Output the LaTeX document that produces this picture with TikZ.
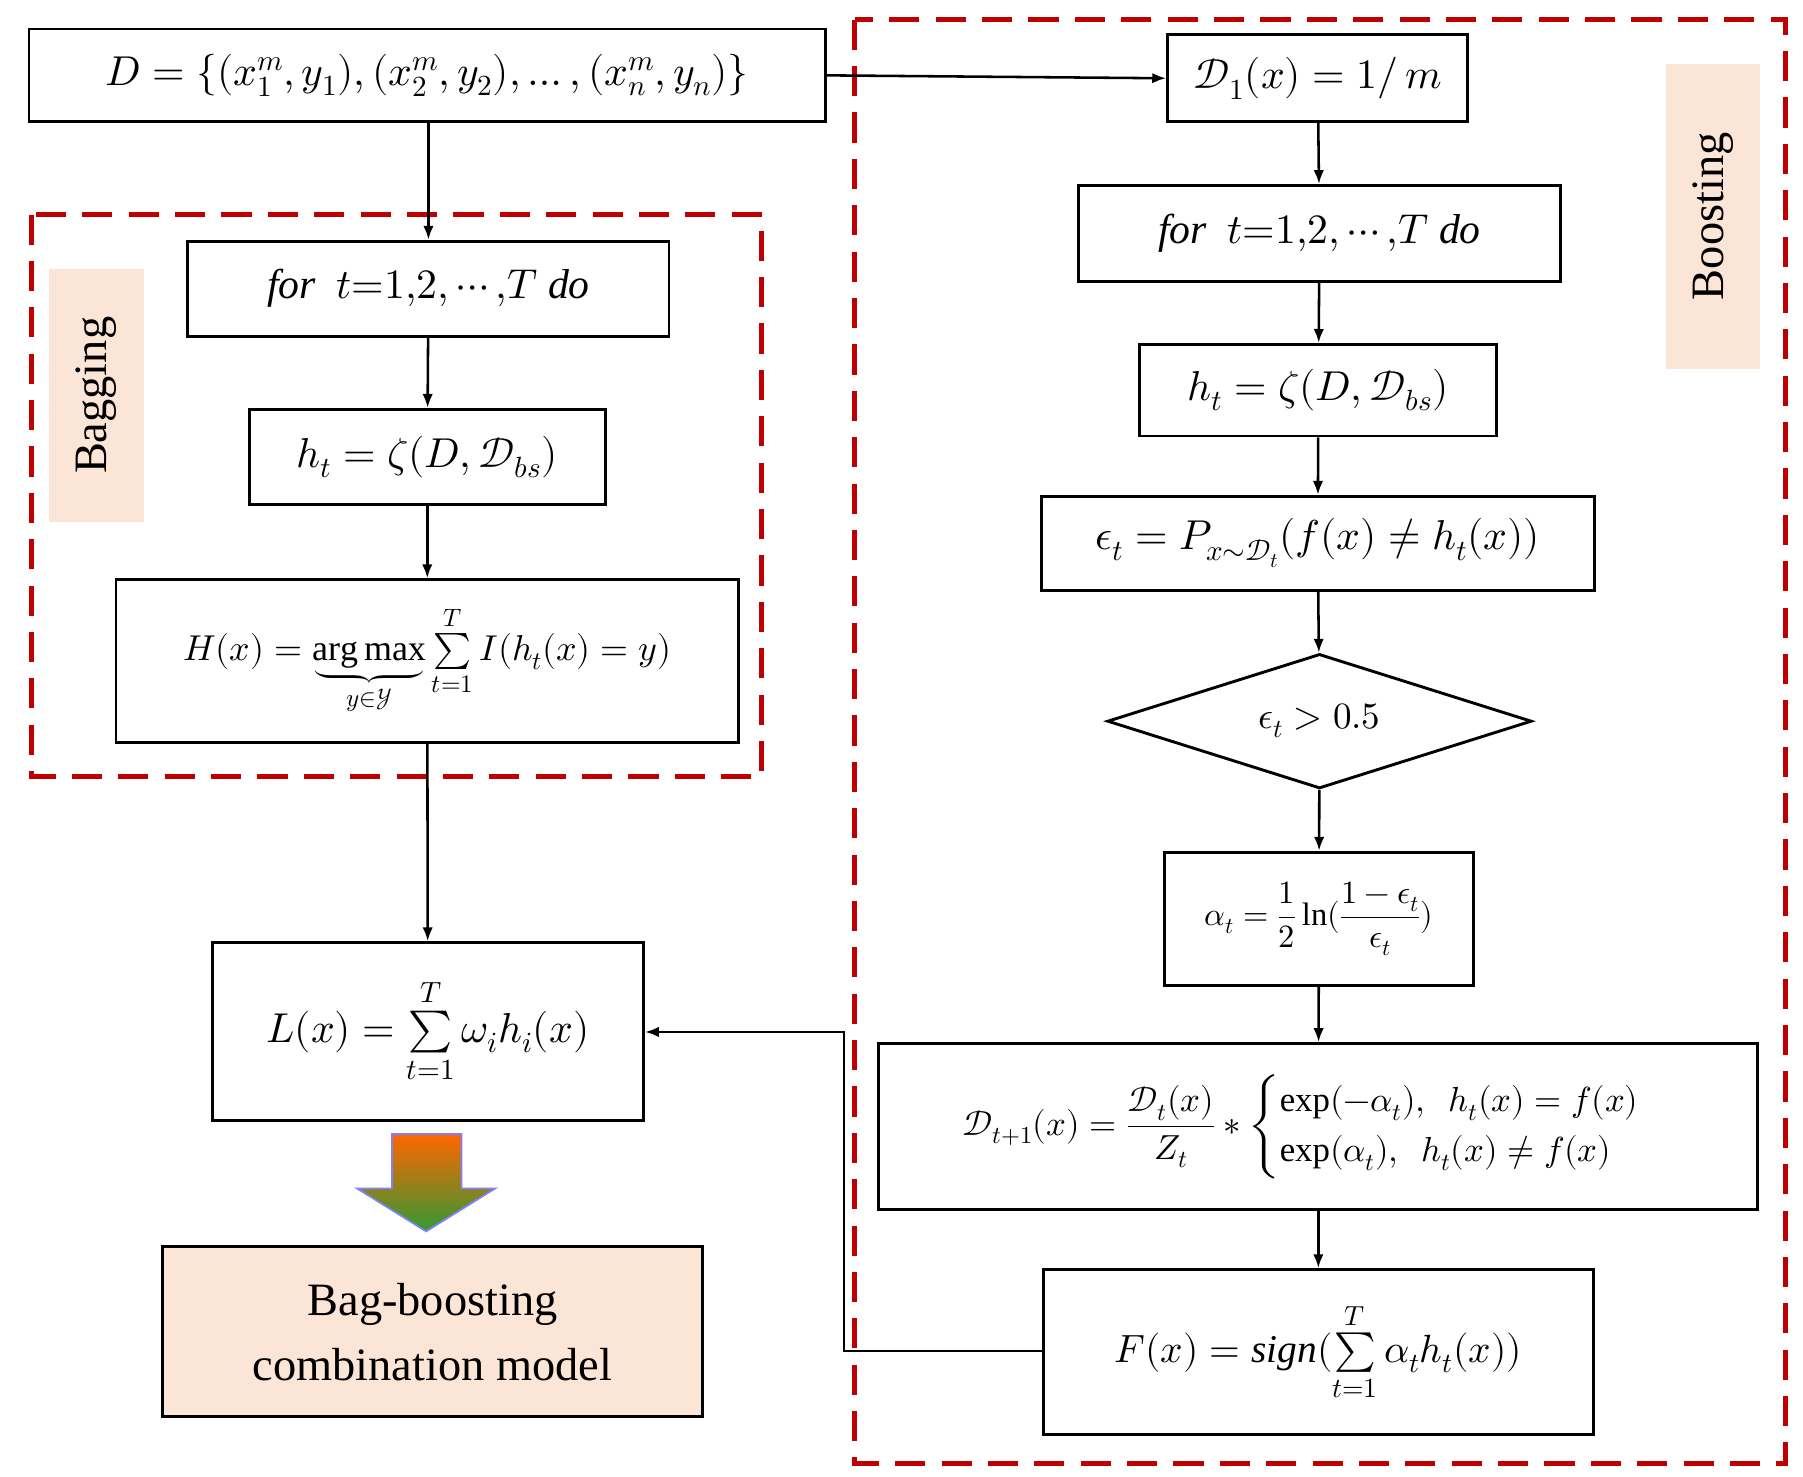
\documentclass[tikz,border=0pt]{standalone}
\usepackage{amsmath}
\usepackage{fontspec}
\usepackage{unicode-math}
\setmainfont{Liberation Serif}
\setmathfont{Latin Modern Math}
\usetikzlibrary{shapes.geometric,arrows.meta}
\definecolor{dred}{HTML}{C00000}
\definecolor{peach}{HTML}{FBE5D6}
\begin{document}
\begin{tikzpicture}[x=1pt,y=-1pt,
  bx/.style={draw,line width=2.5pt,inner sep=0pt},
  dsh/.style={draw=dred,line width=4.5pt,dash pattern=on 26pt off 14pt},
  lab/.style={fill=peach,inner sep=0pt},
  ar/.style={-{Latex[length=12pt,width=9pt]},line width=2.2pt},
  big/.style={font=\fontsize{36}{42}\selectfont},
  mid/.style={font=\fontsize{32}{38}\selectfont}]
\useasboundingbox (0,0) rectangle (1555,1273);
% dashed regions
\draw[dsh] (737,17) rectangle (1540,1262);
\draw[dsh] (27,185) rectangle (657,670);
\node[lab,minimum width=81pt,minimum height=263pt] (blab) at (1477.5,186.5) {};
\node[rotate=90,font=\fontsize{40}{46}\selectfont] at (blab) {Boosting};
\node[lab,minimum width=82pt,minimum height=218pt] (glab) at (83,341) {};
\node[rotate=90,font=\fontsize{40}{46}\selectfont] at (glab) {Bagging};
% nodes
\node[bx,big,minimum width=687pt,minimum height=80pt] (D) at (368.5,65) {$D=\{(x_1^m,y_1),(x_2^m,y_2),\ldots,(x_n^m,y_n)\}$};
\node[bx,big,minimum width=259pt,minimum height=75pt] (D1) at (1136.5,67.5) {$\mathcal{D}_1(x)=1/\,m$};
\node[bx,big,minimum width=416pt,minimum height=83pt] (forR) at (1138,201.5) {$\mathit{for}\ \ t{=}1{,}2{,}\cdots{,}T\ \mathit{do}$};
\node[bx,big,minimum width=308pt,minimum height=79pt] (hR) at (1137,336.5) {$h_t=\zeta(D,\mathcal{D}_{bs})$};
\node[bx,big,minimum width=477pt,minimum height=81pt] (eR) at (1136.5,468.5) {$\epsilon_t=P_{x\sim\mathcal{D}_t}(f(x)\neq h_t(x))$};
\node[draw,line width=2.5pt,diamond,aspect=3.15,minimum width=366pt,minimum height=116pt,inner sep=0pt,mid] (dia) at (1138,622) {$\epsilon_t>0.5$};
\node[bx,font=\fontsize{28}{34}\selectfont,minimum width=267pt,minimum height=115pt] (al) at (1137.5,792.5) {$\alpha_t=\dfrac{1}{2}\ln(\dfrac{1-\epsilon_t}{\epsilon_t})$};
\node[bx,font=\fontsize{30}{36}\selectfont,minimum width=758pt,minimum height=143pt] (Dt) at (1137,971.5) {$\mathcal{D}_{t+1}(x)=\dfrac{\mathcal{D}_t(x)}{Z_t}*\begin{cases}\exp(-\alpha_t),\ \ h_t(x)=f(x)\\ \exp(\alpha_t),\ \ h_t(x)\neq f(x)\end{cases}$};
\node[bx,font=\fontsize{34}{40}\selectfont,minimum width=474pt,minimum height=142pt] (F) at (1137,1166) {$F(x)=\mathit{sign}(\sum\limits_{t=1}^{T}\alpha_t h_t(x))$};
\node[bx,big,minimum width=415pt,minimum height=82pt] (forL) at (369.5,249) {$\mathit{for}\ \ t{=}1{,}2{,}\cdots{,}T\ \mathit{do}$};
\node[bx,big,minimum width=307pt,minimum height=82pt] (hL) at (368.5,394) {$h_t=\zeta(D,\mathcal{D}_{bs})$};
\node[bx,font=\fontsize{31}{36}\selectfont,minimum width=537pt,minimum height=140pt] (H) at (368.5,570) {$H(x)=\underbrace{\mathrm{arg\,max}}_{y\in\mathcal{Y}}\sum\limits_{t=1}^{T}I(h_t(x)=y)$};
\node[bx,big,minimum width=372pt,minimum height=153pt] (L) at (369,889.5) {$L(x)=\sum\limits_{t=1}^{T}\omega_i h_i(x)$};
\node[draw,line width=2.5pt,fill=peach,minimum width=466pt,minimum height=147pt,align=center,font=\fontsize{40}{56}\selectfont] (BB) at (373,1148.5) {Bag-boosting\\combination model};
% big arrow
\shade[top color=orange!80!red,bottom color=green!50!black!80] (338,978) -- (398,978) -- (398,1025) -- (427,1025) -- (367.5,1062) -- (308,1025) -- (338,1025) -- cycle;
\draw[line width=1.5pt,blue!50] (338,978) -- (398,978) -- (398,1025) -- (427,1025) -- (367.5,1062) -- (308,1025) -- (338,1025) -- cycle;
% connectors
\draw[ar] (D.south -| forL) -- (forL.north);
\draw[ar] (D.east) -- (D1.west);
\draw[ar] (D1) -- (forR);
\draw[ar] (forR) -- (hR);
\draw[ar] (hR) -- (eR);
\draw[ar] (eR) -- (dia);
\draw[ar] (dia) -- (al);
\draw[ar] (al) -- (Dt);
\draw[ar] (Dt) -- (F);
\draw[ar] (forL) -- (hL);
\draw[ar] (hL) -- (H);
\draw[ar] (H) -- (L);
\coordinate (c1) at (728,1165);
\coordinate (c2) at (728,890);
\draw[ar] (F.west |- c1) -- (c1) -- (c2) -- (L.east |- c2);
\end{tikzpicture}
\end{document}
